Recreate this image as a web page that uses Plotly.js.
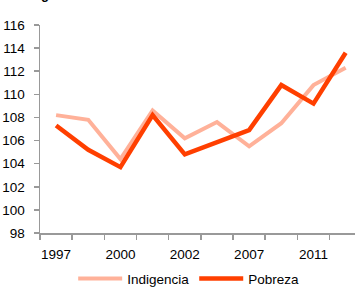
<!DOCTYPE html>
<html>
<head>
<meta charset="utf-8">
<script src="https://cdn.plot.ly/plotly-3.0.1.min.js"></script>
<style>html,body{margin:0;padding:0;background:#fff;}#chart{width:356px;height:287px;}</style>
</head>
<body>
<div id="chart"></div>
<script>
var categories = [0, 1, 2, 3, 4, 5, 6, 7, 8, 9];
var tickPositions = [0, 2, 4, 6, 8];
var tickLabels = ["1997", "2000", "2002", "2007", "2011"];
var indigencia = [108.2, 107.8, 104.4, 108.6, 106.2, 107.6, 105.5, 107.5, 110.8, 112.3];
var pobreza = [107.3, 105.2, 103.7, 108.2, 104.8, 105.9, 106.9, 110.8, 109.2, 113.6];
var boundaries = [-0.5, 0.5, 1.5, 2.5, 3.5, 4.5, 5.5, 6.5, 7.5, 8.5];

var font = {family: "Liberation Sans, Arial, sans-serif", size: 13.5, color: "#000"};

var traces = [
  {x: categories, y: indigencia, name: "Indigencia", type: "scatter", mode: "lines",
   line: {color: "#FFB199", width: 4}},
  {x: categories, y: pobreza, name: "Pobreza", type: "scatter", mode: "lines",
   line: {color: "#FF3F00", width: 4.5}}
];

var layout = {
  width: 356, height: 287,
  margin: {l: 40, r: 1, t: 25, b: 54, autoexpand: false},
  paper_bgcolor: "#fff", plot_bgcolor: "#fff",
  font: font,
  showlegend: true,
  legend: {orientation: "h", xref: "container", yref: "container", x: 0.53, xanchor: "center",
           y: 0.029, yanchor: "middle",
           font: font, itemwidth: 44, tracegroupgap: 0},
  xaxis: {range: [-0.5, 9.29], showgrid: false, zeroline: false,
          showline: true, linecolor: "#999", linewidth: 1.5,
          tickmode: "array", tickvals: tickPositions, ticktext: tickLabels,
          ticks: "", ticklen: 0, ticklabelstandoff: 8,
          minor: {tickmode: "array", tickvals: boundaries, ticks: "outside", ticklen: 5, tickcolor: "#999", tickwidth: 1.5},
          tickfont: font, fixedrange: true},
  yaxis: {range: [98, 116], dtick: 2, showgrid: false, zeroline: false,
          showline: true, linecolor: "#999", linewidth: 1.5,
          ticks: "outside", ticklen: 5, tickcolor: "#999", tickwidth: 1.5,
          ticklabelstandoff: 6,
          tickfont: font, fixedrange: true},
  annotations: [
    {text: "<b>g</b>", xref: "paper", yref: "paper", x: 0.016, y: 1.145,
     xanchor: "center", yanchor: "middle", showarrow: false, font: {family: font.family, size: 13, color: "#000"}}
  ]
};

Plotly.newPlot("chart", traces, layout, {displayModeBar: false, staticPlot: true});
</script>
</body>
</html>
